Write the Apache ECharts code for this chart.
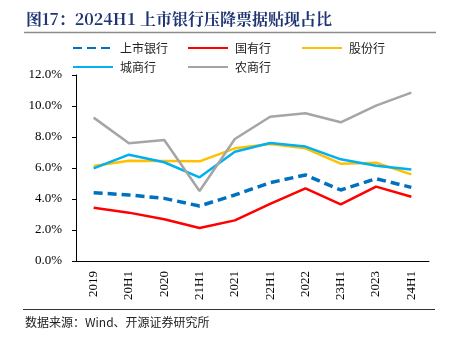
<!DOCTYPE html>
<html>
<head>
<meta charset="utf-8">
<script src="https://cdn.jsdelivr.net/npm/echarts@6/dist/echarts.min.js"></script>
<style>
html, body { margin: 0; padding: 0; background: #fff; }
#chart { width: 454px; height: 341px; }
</style>
</head>
<body>
<div id="chart"></div>
<script>
// Periods on the category axis
const periods = ['2019', '20H1', '2020', '21H1', '2021', '22H1', '2022', '23H1', '2023', '24H1'];

// Share of discounted bills (%) by bank type
const listedBanks = [4.41, 4.26, 4.04, 3.55, 4.26, 5.05, 5.55, 4.58, 5.31, 4.75];
const stateOwned  = [3.44, 3.12, 2.69, 2.13, 2.62, 3.68, 4.69, 3.66, 4.80, 4.15];
const jointStock  = [6.13, 6.47, 6.45, 6.43, 7.27, 7.55, 7.27, 6.28, 6.34, 5.59];
const cityBanks   = [5.98, 6.86, 6.37, 5.40, 7.05, 7.61, 7.38, 6.56, 6.15, 5.91];
const ruralBanks  = [9.25, 7.59, 7.81, 4.52, 7.87, 9.31, 9.53, 8.95, 10.02, 10.86];

const seriesNames = ['上市银行', '国有行', '股份行', '城商行', '农商行'];
const yTicks = { min: 0, max: 12, interval: 2 };

const serif = '"Liberation Serif", "Times New Roman", serif';
const cjk = '"Noto Sans CJK SC", sans-serif';

const chart = echarts.init(document.getElementById('chart'), null, { renderer: 'canvas' });

// One legend per entry so each sits in its own column
function legendAt(name, left, top) {
  return {
    data: [name],
    left: left,
    top: top,
    itemWidth: 40,
    itemHeight: 12,
    itemGap: 0,
    itemStyle: { opacity: 0 },
    textStyle: { fontFamily: cjk, fontSize: 12, color: '#222', padding: [0, 0, 0, 2] },
    selectedMode: false
  };
}

function lineSeries(name, data, color, dashed) {
  return {
    name: name,
    type: 'line',
    data: data,
    symbol: 'none',
    smooth: false,
    lineStyle: dashed
      ? { color: color, width: 3.5, type: [9, 5] }
      : { color: color, width: 2.5 },
    itemStyle: { color: color }
  };
}

chart.setOption({
  animation: false,
  backgroundColor: '#fff',
  legend: [
    legendAt(seriesNames[0], 67, 37),
    legendAt(seriesNames[1], 182, 37),
    legendAt(seriesNames[2], 296, 37),
    legendAt(seriesNames[3], 67, 56),
    legendAt(seriesNames[4], 182, 56)
  ],
  grid: { left: 76, right: 25, top: 75, bottom: 80, containLabel: false },
  xAxis: {
    type: 'category',
    data: periods,
    boundaryGap: true,
    axisLine: { lineStyle: { color: '#000', width: 1 } },
    axisTick: { inside: true, length: 4, lineStyle: { color: '#000' } },
    axisLabel: { rotate: 90, margin: 10, fontFamily: serif, fontSize: 13, color: '#000' },
    splitLine: { show: false }
  },
  yAxis: {
    type: 'value',
    min: yTicks.min,
    max: yTicks.max,
    interval: yTicks.interval,
    axisLine: { show: true, lineStyle: { color: '#000', width: 1 } },
    axisTick: { show: true, inside: false, length: 4, lineStyle: { color: '#000' } },
    axisLabel: {
      margin: 14,
      fontFamily: serif,
      fontSize: 13,
      color: '#000',
      formatter: v => v.toFixed(1) + '%'
    },
    splitLine: { show: false }
  },
  series: [
    lineSeries(seriesNames[0], listedBanks, '#0070C0', true),
    lineSeries(seriesNames[1], stateOwned, '#FF0000', false),
    lineSeries(seriesNames[2], jointStock, '#FFC000', false),
    lineSeries(seriesNames[3], cityBanks, '#00B0F0', false),
    lineSeries(seriesNames[4], ruralBanks, '#A5A5A5', false)
  ],
  graphic: [
    {
      type: 'text', left: 26, top: 11,
      style: {
        text: '图17：2024H1 上市银行压降票据贴现占比',
        fontFamily: '"Noto Serif CJK SC", "Noto Sans CJK SC", serif',
        fontWeight: 'bold', fontSize: 16, fill: '#1F3473'
      }
    },
    {
      type: 'line',
      shape: { x1: 24, y1: 32.5, x2: 436, y2: 32.5 },
      style: { stroke: '#8C8C8C', lineWidth: 1.5 }
    },
    {
      type: 'line',
      shape: { x1: 23, y1: 309.5, x2: 435, y2: 309.5 },
      style: { stroke: '#333', lineWidth: 1 }
    },
    {
      type: 'text', left: 25, top: 316,
      style: {
        text: '数据来源：Wind、开源证券研究所',
        fontFamily: cjk, fontSize: 12, fill: '#222'
      }
    }
  ]
});
</script>
</body>
</html>
